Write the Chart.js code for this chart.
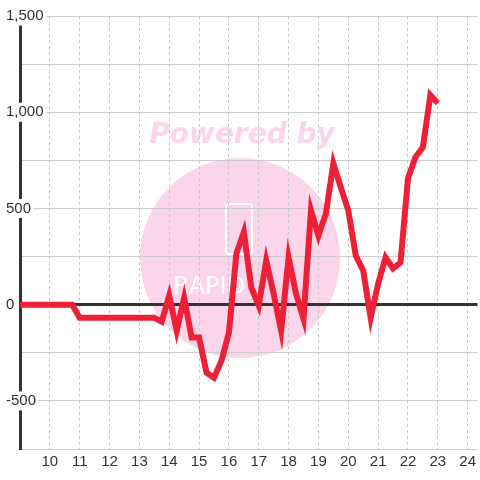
<!DOCTYPE html>
<html>
<head>
<meta charset="utf-8">
<script src="https://cdn.jsdelivr.net/npm/chart.js@4.4.1/dist/chart.umd.min.js"></script>
<style>
  body { margin: 0; background: #fff; }
</style>
</head>
<body>
<canvas id="myChart" width="480" height="480"></canvas>
<script>
// time of day (hours) and value at each point
const hours = [
    9, 9.25, 9.5, 9.75, 10, 10.25, 10.5, 10.75,
    11, 11.25, 11.5, 11.75, 12, 12.25, 12.5, 12.75,
    13, 13.25, 13.5, 13.75, 14, 14.25, 14.5, 14.75,
    15, 15.25, 15.5, 15.75, 16, 16.25, 16.5, 16.75,
    17, 17.25, 17.5, 17.75, 18, 18.25, 18.5, 18.75,
    19, 19.25, 19.5, 19.75, 20, 20.25, 20.5, 20.75,
    21, 21.25, 21.5, 21.75, 22, 22.25, 22.5, 22.75,
    23
];
const values = [
    0, 0, 0, 0, 0, 0, 0, 0,
    -68, -68, -68, -68, -68, -68, -68, -68,
    -68, -68, -68, -88, 47, -135, 36, -170,
    -170, -353, -380, -292, -146, 264, 377, 90,
    -5, 229, 56, -135, 245, 56, -73, 490,
    359, 473, 734, 609, 490, 255, 177, -68,
    109, 245, 188, 219, 656, 766, 818, 1089,
    1047
];

const xTicks = [10, 11, 12, 13, 14, 15, 16, 17, 18, 19, 20, 21, 22, 23, 24];
const yTicks = [-750, -500, -250, 0, 250, 500, 750, 1000, 1250, 1500];
const yTickLabels = ['', '-500', '', '0', '', '500', '', '1,000', '', '1,500'];

// "Powered by" watermark behind the grid
const watermark = {
    id: 'watermark',
    beforeDraw(chart) {
        const ctx = chart.ctx;
        ctx.save();
        ctx.fillStyle = '#fff';
        ctx.fillRect(0, 0, chart.width, chart.height);

        ctx.fillStyle = '#fbd5ea';
        ctx.beginPath();
        ctx.arc(240, 258, 100, 0, Math.PI * 2);
        ctx.fill();

        ctx.font = 'bold italic 28px "DejaVu Sans"';
        ctx.textAlign = 'center';
        ctx.textBaseline = 'alphabetic';
        ctx.fillText('Powered by', 242, 143);

        ctx.strokeStyle = '#fff';
        ctx.lineWidth = 2;
        ctx.beginPath();
        ctx.roundRect(226, 204, 26, 50, 3);
        ctx.stroke();

        ctx.fillStyle = '#fff';
        ctx.font = '24px "DejaVu Sans"';
        ctx.textAlign = 'left';
        ctx.fillText('RAPID', 173, 294);
        ctx.restore();
    }
};

const tickFont = { family: '"Liberation Sans", Arial, sans-serif', size: 15 };

const config = {
    type: 'line',
    data: {
        datasets: [{
            data: hours.map((h, i) => ({ x: h, y: values[i] })),
            borderColor: '#ee2036',
            borderWidth: 6,
            pointRadius: 0,
            tension: 0,
            fill: false
        }]
    },
    options: {
        responsive: false,
        animation: false,
        layout: { padding: { left: 5, top: 16, right: 0, bottom: 5 } },
        plugins: {
            legend: { display: false },
            tooltip: { enabled: false }
        },
        scales: {
            x: {
                type: 'linear',
                min: 9,
                max: 24.33,
                afterBuildTicks: axis => { axis.ticks = xTicks.map(v => ({ value: v })); },
                ticks: {
                    color: '#333',
                    font: tickFont,
                    padding: 4,
                    maxRotation: 0,
                    autoSkip: false,
                    callback: v => String(v)
                },
                grid: { color: '#c8c8c8', drawTicks: false },
                border: { color: '#ccc', width: 1, dash: [3, 3] }
            },
            y: {
                type: 'linear',
                min: -750,
                max: 1500,
                afterBuildTicks: axis => { axis.ticks = yTicks.map(v => ({ value: v })); },
                afterFit: axis => { axis.width = 15; },
                ticks: {
                    color: '#333',
                    font: { family: tickFont.family, size: 15, lineHeight: 1 },
                    mirror: true,
                    crossAlign: 'near',
                    padding: -14,
                    autoSkip: false,
                    showLabelBackdrop: true,
                    backdropColor: '#fff',
                    backdropPadding: 2,
                    callback: (v, i) => yTickLabels[i]
                },
                grid: {
                    color: c => (c.tick && c.tick.value === 0) ? '#333' : '#ccc',
                    lineWidth: c => (c.tick && c.tick.value === 0) ? 3 : 1,
                    drawTicks: false
                },
                border: { color: '#333', width: 3 }
            }
        }
    },
    plugins: [watermark]
};

const myChart = new Chart(document.getElementById('myChart'), config);
</script>
</body>
</html>
